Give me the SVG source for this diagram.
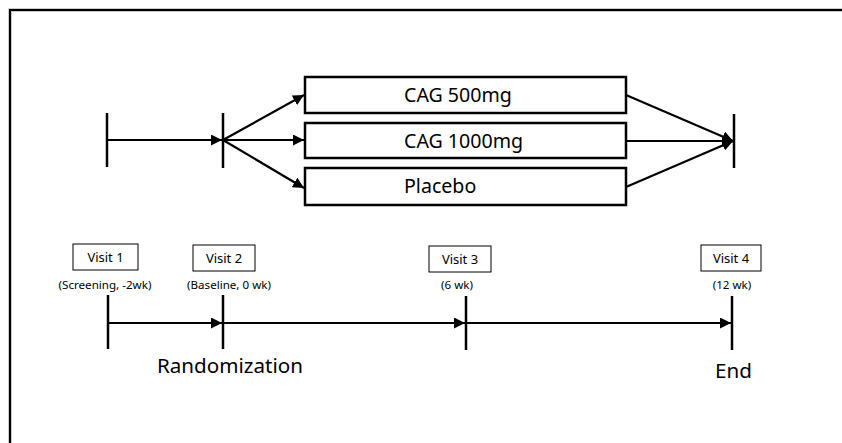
<svg xmlns="http://www.w3.org/2000/svg" width="842" height="443" viewBox="0 0 842 443">
<defs>
<marker id="ah" viewBox="0 0 10 10" refX="10" refY="5" markerWidth="5" markerHeight="5" orient="auto" markerUnits="strokeWidth">
<path d="M0,0 L10,5 L0,10 z" fill="#000"/>
</marker>
<style>
.ln{stroke:#000;stroke-width:2.2;fill:none}
.tick{stroke:#000;stroke-width:2.5}
.arm{fill:#fff;stroke:#000;stroke-width:2.5}
.vb{fill:#fff;stroke:#000;stroke-width:1}
.t{font-family:"Noto Sans","Open Sans",sans-serif;fill:#000}
.big{font-size:19.6px}
.vt{font-size:13px;text-anchor:middle}
.st{font-size:11.6px;text-anchor:middle}
.lab{font-size:20.6px}
</style>
</defs>
<rect width="842" height="443" fill="#fff"/>
<rect x="10" y="10" width="900" height="500" fill="none" stroke="#bbb" stroke-width="3.5"/>
<rect x="10" y="10" width="900" height="500" fill="none" stroke="#000" stroke-width="2"/>

<g id="connectors">
<line class="ln" x1="107" y1="140" x2="222" y2="140" marker-end="url(#ah)"/>
<line class="ln" x1="223" y1="140" x2="304" y2="95" marker-end="url(#ah)"/>
<line class="ln" x1="223" y1="140" x2="304" y2="140" marker-end="url(#ah)"/>
<line class="ln" x1="223" y1="140" x2="304" y2="188" marker-end="url(#ah)"/>
<line class="ln" x1="626" y1="95" x2="733" y2="141" marker-end="url(#ah)"/>
<line class="ln" x1="626" y1="141" x2="733" y2="141" marker-end="url(#ah)"/>
<line class="ln" x1="626" y1="187" x2="733" y2="141" marker-end="url(#ah)"/>
<line class="ln" x1="108" y1="323" x2="222" y2="323" marker-end="url(#ah)"/>
<line class="ln" x1="223" y1="323" x2="465" y2="323" marker-end="url(#ah)"/>
<line class="ln" x1="466" y1="323" x2="731" y2="323" marker-end="url(#ah)"/>
</g>

<g id="ticks-top">
<line class="tick" x1="107" y1="113" x2="107" y2="167"/>
<line class="tick" x1="223" y1="113" x2="223" y2="168"/>
<line class="tick" x1="734" y1="114" x2="734" y2="168"/>
</g>

<g id="arm1">
<rect class="arm" x="305" y="77" width="321" height="36"/>
<text class="t big" x="404" y="102">CAG 500mg</text>
</g>
<g id="arm2">
<rect class="arm" x="305" y="123" width="321" height="35"/>
<text class="t big" x="404" y="148">CAG 1000mg</text>
</g>
<g id="arm3">
<rect class="arm" x="305" y="168" width="321" height="37"/>
<text class="t big" x="404" y="193">Placebo</text>
</g>

<g id="visit1">
<rect class="vb" x="73" y="244" width="65" height="26"/>
<text class="t vt" x="105.5" y="262">Visit 1</text>
<text class="t st" x="105" y="289">(Screening, -2wk)</text>
<line class="tick" x1="108" y1="295" x2="108" y2="349"/>
</g>
<g id="visit2">
<rect class="vb" x="193" y="245" width="62" height="26"/>
<text class="t vt" x="224" y="263">Visit 2</text>
<text class="t st" x="229" y="289">(Baseline, 0 wk)</text>
<line class="tick" x1="223" y1="295" x2="223" y2="349"/>
</g>
<g id="visit3">
<rect class="vb" x="429" y="246" width="62" height="26"/>
<text class="t vt" x="460" y="264">Visit 3</text>
<text class="t st" x="457" y="289">(6 wk)</text>
<line class="tick" x1="466" y1="296" x2="466" y2="350"/>
</g>
<g id="visit4">
<rect class="vb" x="701" y="245" width="60" height="26"/>
<text class="t vt" x="731" y="263">Visit 4</text>
<text class="t st" x="732" y="289">(12 wk)</text>
<line class="tick" x1="732" y1="296" x2="732" y2="350"/>
</g>

<g id="labels">
<text class="t lab" x="157" y="373">Randomization</text>
<text class="t lab" x="715" y="378">End</text>
</g>
</svg>
